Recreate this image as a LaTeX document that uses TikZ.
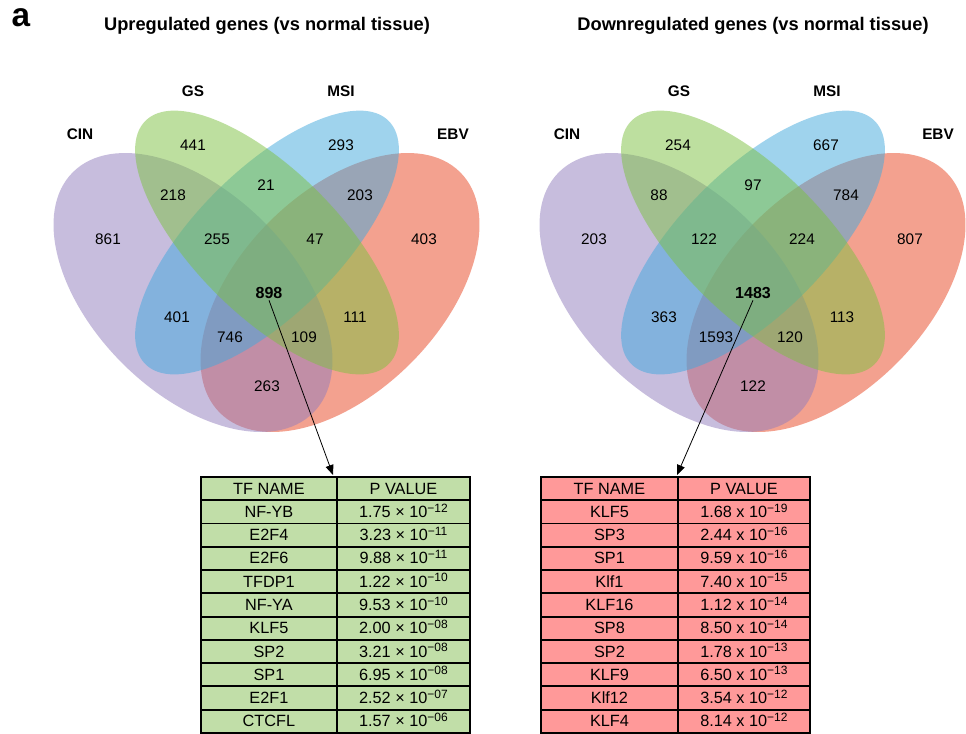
\documentclass[tikz,border=0pt]{standalone}
\usepackage{fontspec}
\setmainfont{Liberation Sans}
\usetikzlibrary{arrows.meta}
\definecolor{cinc}{RGB}{145,125,189}
\definecolor{gsc}{RGB}{125,193,65}
\definecolor{msic}{RGB}{65,169,221}
\definecolor{ebvc}{RGB}{233,69,33}
\definecolor{tgreen}{RGB}{193,222,168}
\definecolor{tred}{RGB}{255,153,153}
\newcommand\pexp[1]{\raisebox{0.62ex}{\fontsize{9pt}{9pt}\selectfont #1}}
\tikzset{
  venn/.style={fill opacity=0.5},
  num/.style={font=\fontsize{11.5pt}{13pt}\selectfont, inner sep=1pt},
  bnum/.style={font=\fontsize{12pt}{13pt}\selectfont\bfseries, inner sep=1pt},
  cat/.style={font=\fontsize{11.5pt}{13pt}\selectfont\bfseries, inner sep=1pt},
  ttl/.style={font=\fontsize{13.7pt}{15pt}\selectfont\bfseries, inner sep=1pt},
  cellbase/.style={draw=black, line width=1.4pt, anchor=north west, inner sep=0pt,
    minimum height=17.45pt, font=\fontsize{12.2pt}{13pt}\selectfont,
    text height=8.8pt, text depth=0.5pt},
  gcell/.style={cellbase, fill=tgreen},
  rcell/.style={cellbase, fill=tred},
  arr/.style={-{Triangle[length=7.5pt,width=6pt]}, line width=0.6pt},
}
\begin{document}
\begin{tikzpicture}[x=0.75pt,y=-0.75pt]
\fill[white] (0,0) rectangle (966,733);
\useasboundingbox (0,0) rectangle (966,733);

\node[font=\fontsize{25pt}{26pt}\selectfont\bfseries, inner sep=0pt] (lbla) at (21,18) {a};

% ---------- left Venn ----------
\node[ttl] (uttl) at (267,26) {Upregulated genes (vs normal tissue)};
\fill[ebvc, venn] (340,292.5) ellipse [x radius=127.5pt, y radius=75pt, rotate=45];
\fill[cinc, venn] (193,292.5) ellipse [x radius=127.5pt, y radius=75pt, rotate=-45];
\fill[msic, venn] (267,242.5) ellipse [x radius=129pt, y radius=54pt, rotate=45];
\fill[gsc, venn] (267,242.5) ellipse [x radius=129pt, y radius=54pt, rotate=-45];
\node[cat] (ucin) at (80,134) {CIN};
\node[cat] (ugs) at (193,91) {GS};
\node[cat] (umsi) at (341,91) {MSI};
\node[cat] (uebv) at (453,134) {EBV};
\node[num] (u441) at (193,145) {441};
\node[num] (u293) at (341,145) {293};
\node[num] (u218) at (173,195) {218};
\node[num] (u21) at (266,185) {21};
\node[num] (u203) at (360,195) {203};
\node[num] (u861) at (108,239) {861};
\node[num] (u255) at (217,239) {255};
\node[num] (u47) at (315,239) {47};
\node[num] (u403) at (424,239) {403};
\node[bnum] (u898) at (269,293) {898};
\node[num] (u401) at (177,317) {401};
\node[num] (u111) at (355,317) {111};
\node[num] (u746) at (230,337) {746};
\node[num] (u109) at (304,337) {109};
\node[num] (u263) at (267,386) {263};

% ---------- right Venn ----------
\node[ttl] (dttl) at (753,26) {Downregulated genes (vs normal tissue)};
\begin{scope}[shift={(486,0)}]
\fill[ebvc, venn] (340,292.5) ellipse [x radius=127.5pt, y radius=75pt, rotate=45];
\fill[cinc, venn] (193,292.5) ellipse [x radius=127.5pt, y radius=75pt, rotate=-45];
\fill[msic, venn] (267,242.5) ellipse [x radius=129pt, y radius=54pt, rotate=45];
\fill[gsc, venn] (267,242.5) ellipse [x radius=129pt, y radius=54pt, rotate=-45];
\end{scope}
\node[cat] (dcin) at (567,134) {CIN};
\node[cat] (dgs) at (679,91) {GS};
\node[cat] (dmsi) at (827,91) {MSI};
\node[cat] (debv) at (938,134) {EBV};
\node[num] (d254) at (678,145) {254};
\node[num] (d667) at (826,145) {667};
\node[num] (d88) at (659,195) {88};
\node[num] (d97) at (753,185) {97};
\node[num] (d784) at (846,195) {784};
\node[num] (d203) at (594,239) {203};
\node[num] (d122a) at (704,239) {122};
\node[num] (d224) at (802,239) {224};
\node[num] (d807) at (910,239) {807};
\node[bnum] (d1483) at (753,293) {1483};
\node[num] (d363) at (664,317) {363};
\node[num] (d113) at (842,317) {113};
\node[num] (d1593) at (716,337) {1593};
\node[num] (d120) at (790,337) {120};
\node[num] (d122b) at (753,386) {122};

% ---------- tables ----------
\foreach \a/\b [count=\i from 0] in {
  {TF NAME}/{P VALUE},
  {NF-YB}/{1.75 × 10\pexp{−12}},
  {E2F4}/{3.23 × 10\pexp{−11}},
  {E2F6}/{9.88 × 10\pexp{−11}},
  {TFDP1}/{1.22 × 10\pexp{−10}},
  {NF-YA}/{9.53 × 10\pexp{−10}},
  {KLF5}/{2.00 × 10\pexp{−08}},
  {SP2}/{3.21 × 10\pexp{−08}},
  {SP1}/{6.95 × 10\pexp{−08}},
  {E2F1}/{2.52 × 10\pexp{−07}},
  {CTCFL}/{1.57 × 10\pexp{−06}}}{
  \node[gcell, minimum width=102pt] (ua\i) at (200,{476+23.27*\i}) {\a};
  \node[gcell, minimum width=99.75pt] (ub\i) at (336,{476+23.27*\i}) {\b};
}
\foreach \a/\b [count=\i from 0] in {
  {TF NAME}/{P VALUE},
  {KLF5}/{1.68 x 10\pexp{−19}},
  {SP3}/{2.44 x 10\pexp{−16}},
  {SP1}/{9.59 x 10\pexp{−16}},
  {Klf1}/{7.40 x 10\pexp{−15}},
  {KLF16}/{1.12 x 10\pexp{−14}},
  {SP8}/{8.50 x 10\pexp{−14}},
  {SP2}/{1.78 x 10\pexp{−13}},
  {KLF9}/{6.50 x 10\pexp{−13}},
  {Klf12}/{3.54 x 10\pexp{−12}},
  {KLF4}/{8.14 x 10\pexp{−12}}}{
  \node[rcell, minimum width=102.75pt] (da\i) at (540,{476+23.27*\i}) {\a};
  \node[rcell, minimum width=99pt] (db\i) at (677,{476+23.27*\i}) {\b};
}

% ---------- arrows ----------
\coordinate (uend) at (333,475);
\coordinate (dend) at (677,475);
\draw[arr] (u898.south) -- (uend);
\draw[arr] (d1483.south) -- (dend);
\end{tikzpicture}
\end{document}
